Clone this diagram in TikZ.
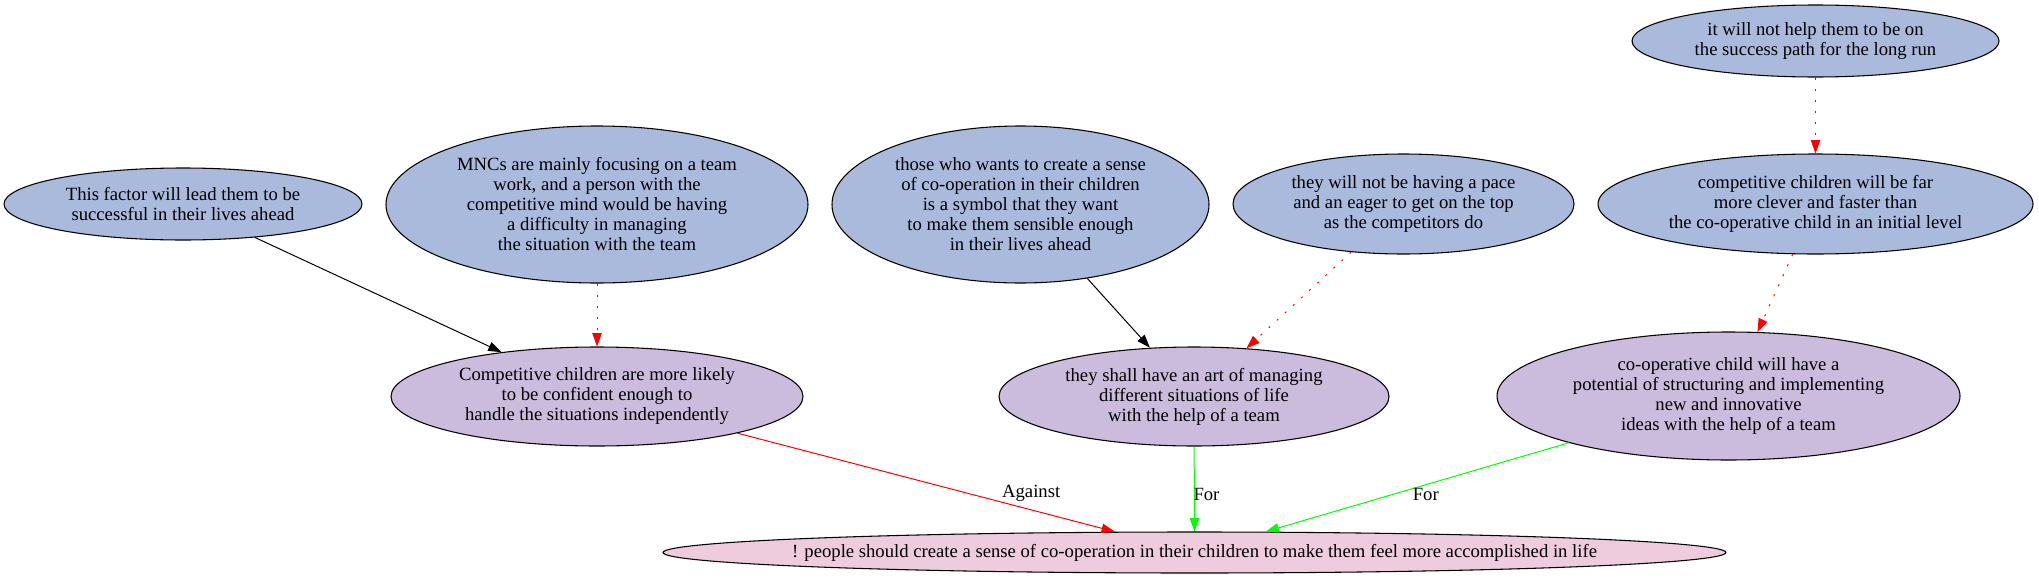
\documentclass[tikz,border=0pt]{standalone}
\usepackage{fontspec}
\setmainfont{Liberation Serif}
\usepackage{tikz}
\usetikzlibrary{shapes.geometric}
\usetikzlibrary{arrows.meta}

\definecolor{reasonblue}{RGB}{170,186,220}
\definecolor{claimlilac}{RGB}{203,187,220}
\definecolor{thesispink}{RGB}{238,203,221}

\begin{document}
\begin{tikzpicture}[x=0.75pt, y=-0.75pt,
  >={Triangle[length=10pt,width=7pt]},
  bubble/.style={ellipse, draw, line width=0.8pt, inner sep=0pt, align=center, font=\fontsize{14}{15}\selectfont},
  reason/.style={bubble, fill=reasonblue},
  claim/.style={bubble, fill=claimlilac},
  thesis/.style={bubble, fill=thesispink},
  link/.style={->, line width=0.75pt},
  attack/.style={link, red, dash pattern=on 1.5pt off 6.75pt},
  lbl/.style={font=\fontsize{14}{15}\selectfont, inner sep=0pt, text=black}]
  \useasboundingbox (0,0) rectangle (2039,582);

  \node [reason, minimum width=268.5pt, minimum height=54pt] (factor) at (183,204)
    {This factor will lead them to be\\successful in their lives ahead};
  \node [reason, minimum width=316.5pt, minimum height=117.75pt] (mnc) at (597,204.5)
    {MNCs are mainly focusing on a team\\work, and a person with the\\competitive mind would be having\\a difficulty in managing\\the situation with the team};
  \node [reason, minimum width=282.75pt, minimum height=117.75pt] (those) at (1020.5,204.5)
    {those who wants to create a sense\\of co-operation in their children\\is a symbol that they want\\to make them sensible enough\\in their lives ahead};
  \node [reason, minimum width=255.75pt, minimum height=75pt] (pace) at (1403.5,204)
    {they will not be having a pace\\and an eager to get on the top\\as the competitors do};
  \node [reason, minimum width=275.25pt, minimum height=54pt] (help) at (1815.5,41)
    {it will not help them to be on\\the success path for the long run};
  \node [reason, minimum width=326.25pt, minimum height=75pt] (far) at (1815.5,204)
    {competitive children will be far\\more clever and faster than\\the co-operative child in an initial level};

  \node [claim, minimum width=309pt, minimum height=74.25pt] (comp) at (597,396.5)
    {Competitive children are more likely\\to be confident enough to\\handle the situations independently};
  \node [claim, minimum width=292.5pt, minimum height=74.25pt] (shall) at (1194,396.5)
    {they shall have an art of managing\\different situations of life\\with the help of a team};
  \node [claim, minimum width=347.25pt, minimum height=96pt] (coop) at (1728.5,396)
    {co-operative child will have a\\potential of structuring and implementing\\new and innovative\\ideas with the help of a team};

  \node [thesis, inner xsep=-20pt, minimum width=791.25pt, minimum height=30.75pt] (goal) at (1194.5,552.5)
    {! people should create a sense of co-operation in their children to make them feel more accomplished in life};

  \draw [link] (factor) -- (comp);
  \draw [attack] (mnc) -- (comp);
  \draw [link] (those) -- (shall);
  \draw [attack] (pace) -- (shall);
  \draw [attack] (help) -- (far);
  \draw [attack] (far) -- (coop);
  \draw [link, red] (comp) -- (goal) node [lbl, pos=0.70, anchor=south west] {Against};
  \draw [link, green] (shall) -- (goal) node [lbl, pos=0.57, anchor=west, xshift=-1pt] {For};
  \draw [link, green] (coop) -- (goal) node [lbl, pos=0.58, anchor=west, xshift=14.5pt] {For};
\end{tikzpicture}
\end{document}
